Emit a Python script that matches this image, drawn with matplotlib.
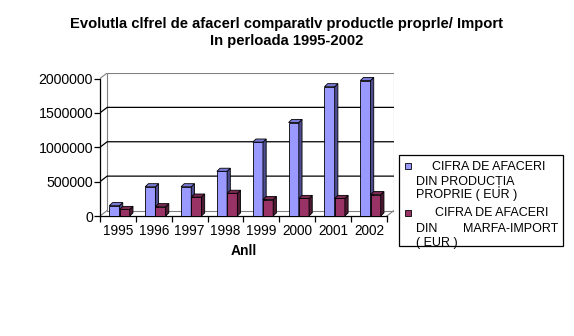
import matplotlib
matplotlib.use("Agg")
import matplotlib.pyplot as plt
from matplotlib.patches import Polygon, Rectangle
import numpy as np

plt.rcParams["font.family"] = ["Liberation Sans", "DejaVu Sans"]

# ---------------------------------------------------------------------------
# Data
# ---------------------------------------------------------------------------
years = ["1995", "1996", "1997", "1998", "1999", "2000", "2001", "2002"]
own_production = [150000, 425000, 425000, 650000, 1075000, 1360000, 1880000, 1970000]
import_goods = [95000, 135000, 275000, 330000, 240000, 255000, 255000, 310000]

y_ticks = [0, 500000, 1000000, 1500000, 2000000]
series_names = ["CIFRA DE AFACERI DIN PRODUCȚIA PROPRIE ( EUR )",
                "CIFRA DE AFACERI DIN MARFA-IMPORT ( EUR )"]

title = "Evolutla clfrel de afacerl comparatlv productle proprle/ Import\nIn perloada 1995-2002"
x_title = "Anll"

# ---------------------------------------------------------------------------
# Styling / geometry
# ---------------------------------------------------------------------------
BLUE = ("#9999FF", "#4D4D8F", "#7A7AD6")   # front, side, top
RED = ("#993366", "#4D1A33", "#7A2952")
GREY = "#808080"

W, H = 574, 336
DX, DY = 0.2, 80000          # wall depth (category units, value units)
BW = 0.285                    # bar width
BDX, BDY = 0.09, 45000        # bar depth
YMAX = y_ticks[-1]
n = len(years)


def fx(x):
    return x / W


def fy(y):
    return 1 - y / H


fig = plt.figure(figsize=(W / 100, H / 100), dpi=100)
ax = fig.add_axes([fx(100), fy(216), (394 - 100) / W, (216 - 73) / H])
ax.set_xlim(0, n + DX)
ax.set_ylim(0, YMAX + DY)
ax.patch.set_visible(False)

# walls and floor
ax.plot([DX, n + DX, n + DX, DX, DX], [DY, DY, YMAX + DY, YMAX + DY, DY],
        color=GREY, lw=0.8, zorder=1)
ax.plot([0, DX], [0, DY], color=GREY, lw=0.8, zorder=1)
ax.plot([n, n + DX], [0, DY], color=GREY, lw=0.8, zorder=1)
ax.plot([0, DX], [YMAX, YMAX + DY], color=GREY, lw=0.8, zorder=1)

# gridlines (side wall + back wall)
for v in y_ticks[1:-1]:
    ax.plot([0, DX, n + DX], [v, v + DY, v + DY], color="black", lw=0.9, zorder=1)

# 3D-looking bars
for i in range(n):
    for j, (vals, cols) in enumerate([(own_production, BLUE), (import_goods, RED)]):
        x0 = i + 0.26 + j * BW
        v = vals[i]
        z = 3 + 2 * i + j
        ax.bar(x0, v, width=BW, align="edge", color=cols[0],
               edgecolor="black", lw=0.6, zorder=z)
        side = [(x0 + BW, 0), (x0 + BW + BDX, BDY), (x0 + BW + BDX, v + BDY), (x0 + BW, v)]
        top = [(x0, v), (x0 + BDX, v + BDY), (x0 + BW + BDX, v + BDY), (x0 + BW, v)]
        ax.add_patch(Polygon(side, closed=True, facecolor=cols[1],
                             edgecolor="black", lw=0.6, zorder=z))
        ax.add_patch(Polygon(top, closed=True, facecolor=cols[2],
                             edgecolor="black", lw=0.6, zorder=z))

# axes
for s in ["top", "right"]:
    ax.spines[s].set_visible(False)
ax.spines["left"].set_bounds(0, YMAX)
ax.spines["bottom"].set_bounds(0, n)
ax.spines["left"].set_linewidth(0.9)
ax.spines["bottom"].set_linewidth(0.9)

ax.set_yticks(y_ticks)
ax.set_yticklabels([str(t) for t in y_ticks], fontsize=10.2)
ax.tick_params(axis="y", direction="out", length=4, width=0.9, pad=1)

ax.set_xticks(np.arange(n + 1))
ax.set_xticklabels([])
ax.set_xticks(np.arange(n) + 0.5, minor=True)
ax.set_xticklabels(years, minor=True, fontsize=9.8)
ax.tick_params(axis="x", which="major", direction="out", length=4, width=0.9)
ax.tick_params(axis="x", which="minor", length=0, pad=6)

fig.text(fx(244), fy(251), x_title, fontsize=10, fontweight="bold",
         ha="center", va="center")

# title
fig.text(fx(287), fy(32.5), title, fontsize=10.6, fontweight="bold",
         ha="center", va="center", linespacing=1.25)

# legend box drawn by hand
fig.patches.append(Rectangle((fx(399), fy(246)), (563 - 399) / W, (246 - 155) / H,
                             transform=fig.transFigure, facecolor="white",
                             edgecolor="black", lw=0.9))
fig.patches.append(Rectangle((fx(405), fy(169)), 6 / W, 6 / H, transform=fig.transFigure,
                             facecolor=BLUE[0], edgecolor="black", lw=0.6))
fig.patches.append(Rectangle((fx(405), fy(216)), 6 / W, 6 / H, transform=fig.transFigure,
                             facecolor=RED[0], edgecolor="black", lw=0.6))
lfs = 9
fig.text(fx(432), fy(167), "CIFRA DE AFACERI", fontsize=lfs, va="center")
fig.text(fx(416), fy(182), "DIN PRODUCȚIA", fontsize=lfs, va="center")
fig.text(fx(416), fy(195), "PROPRIE ( EUR )", fontsize=lfs, va="center")
fig.text(fx(435), fy(213), "CIFRA DE AFACERI", fontsize=lfs, va="center")
fig.text(fx(416), fy(229), "DIN", fontsize=lfs, va="center")
fig.text(fx(558), fy(229), "MARFA-IMPORT", fontsize=lfs, va="center", ha="right")
fig.text(fx(416), fy(243), "( EUR )", fontsize=lfs, va="center")

fig.savefig("out.png", dpi=100)
